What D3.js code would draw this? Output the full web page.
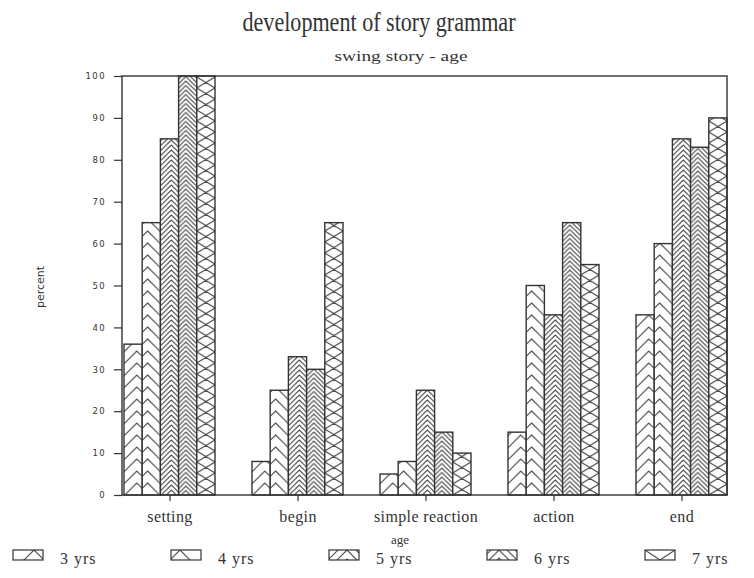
<!DOCTYPE html>
<html>
<head>
<meta charset="utf-8">
<script src="https://cdn.jsdelivr.net/npm/d3@7.9.0/dist/d3.min.js"></script>
<style>
  body { margin: 0; background: #fff; }
  svg { display: block; }
  .serif { font-family: "Liberation Serif", "DejaVu Serif", serif; fill: #333; }
  .sans { font-family: "DejaVu Sans", sans-serif; fill: #333; }
</style>
</head>
<body>
<svg id="chart" width="754" height="578"></svg>
<script>
// data
const categories = ['setting', 'begin', 'simple reaction', 'action', 'end'];
const series = ['3 yrs', '4 yrs', '5 yrs', '6 yrs', '7 yrs'];
const yrs3 = [36, 8, 5, 15, 43];
const yrs4 = [65, 25, 8, 50, 60];
const yrs5 = [85, 33, 25, 43, 85];
const yrs6 = [100, 30, 15, 65, 83];
const yrs7 = [100, 65, 10, 55, 90];
const yTicks = [0, 10, 20, 30, 40, 50, 60, 70, 80, 90, 100];

const values = [yrs3, yrs4, yrs5, yrs6, yrs7];

// hatch style per series
const hatchStyles = [
  { h: 12, peak: 0.7 },
  { h: 12, peak: 0.3 },
  { h: 5, peak: 0.6 },
  { h: 4.5, peak: 0.4 },
  { h: 11, cross: true }
];

const W = 754, H = 578;
const margin = { top: 76, right: 27, bottom: 83, left: 122 };
const ink = '#333';

const svg = d3.select('#chart');
const defs = svg.append('defs');

const x0 = d3.scalePoint()
  .domain(categories)
  .range([124, W - margin.right])
  .padding(0.3555);

const x1 = d3.scaleBand()
  .domain(series)
  .range([-45.5, 45.5]);

const y = d3.scaleLinear()
  .domain([0, 100])
  .range([H - margin.bottom, margin.top]);

function makeHatch(id, style, px0, py0, w) {
  let h = style.h;
  let p = defs.append('pattern')
    .attr('id', id)
    .attr('patternUnits', 'userSpaceOnUse')
    .attr('x', px0)
    .attr('y', py0)
    .attr('width', w)
    .attr('height', h);
  p.append('rect').attr('width', w).attr('height', h).attr('fill', '#fff');
  let d = '';
  if (style.cross) {
    for (let k = -1; k <= 1; k++) {
      let o = k * h;
      d += `M0,${o} L${w / 2},${o + h / 2} L0,${o + h} `;
      d += `M${w},${o} L${w / 2},${o + h / 2} L${w},${o + h} `;
    }
  } else {
    let pk = style.peak * w;
    let n = Math.ceil(w / h) + 2;
    for (let k = -n; k <= n; k++) {
      let o = k * h;
      d += `M0,${o + pk} L${pk},${o} L${w},${o + (w - pk)} `;
    }
  }
  p.append('path')
    .attr('d', d)
    .attr('fill', 'none')
    .attr('stroke', '#4a4a4a')
    .attr('stroke-width', 1.1);
}

// bars
const bw = x1.bandwidth();
series.forEach((s, i) => {
  let g = svg.append('g');
  categories.forEach((c, j) => {
    let bx = x0(c) + x1(s);
    let id = `hatch-${i}-${j}`;
    makeHatch(id, hatchStyles[i], bx, y(0), bw);
    g.append('rect')
      .attr('x', bx)
      .attr('y', y(values[i][j]))
      .attr('width', bw)
      .attr('height', y(0) - y(values[i][j]))
      .attr('fill', `url(#${id})`)
      .attr('stroke', ink)
      .attr('stroke-width', 1.4);
  });
});

// frame
svg.append('rect')
  .attr('x', margin.left)
  .attr('y', margin.top)
  .attr('width', W - margin.left - margin.right)
  .attr('height', H - margin.top - margin.bottom)
  .attr('fill', 'none')
  .attr('stroke', ink)
  .attr('stroke-width', 1.4);

// y axis
let yAxis = svg.append('g')
  .attr('transform', `translate(${margin.left},0)`)
  .call(d3.axisLeft(y).tickValues(yTicks).tickSize(8).tickPadding(8));
yAxis.select('.domain').remove();
yAxis.selectAll('line').attr('stroke', ink).attr('stroke-width', 1.2);
yAxis.selectAll('text')
  .attr('class', 'sans')
  .attr('font-size', 8.5)
  .attr('letter-spacing', 1.4)
  .attr('fill', ink);

// x axis
let xAxis = svg.append('g')
  .attr('transform', `translate(0,${y(0)})`)
  .call(d3.axisBottom(x0).tickSize(6).tickPadding(10));
xAxis.select('.domain').remove();
xAxis.selectAll('line').attr('stroke', ink).attr('stroke-width', 1.2);
xAxis.selectAll('text')
  .attr('class', 'serif')
  .attr('font-size', 16)
  .attr('letter-spacing', 0.4)
  .attr('fill', ink);

// titles
svg.append('text')
  .attr('class', 'serif')
  .attr('x', 379).attr('y', 31)
  .attr('text-anchor', 'middle')
  .attr('font-size', 27)
  .attr('textLength', 273)
  .attr('lengthAdjust', 'spacingAndGlyphs')
  .text('development of story grammar');

svg.append('text')
  .attr('class', 'serif')
  .attr('x', 401).attr('y', 61)
  .attr('text-anchor', 'middle')
  .attr('font-size', 15)
  .attr('textLength', 133)
  .attr('lengthAdjust', 'spacingAndGlyphs')
  .text('swing story - age');

svg.append('text')
  .attr('class', 'sans')
  .attr('transform', `translate(44,287) rotate(-90)`)
  .attr('text-anchor', 'middle')
  .attr('font-size', 11)
  .text('percent');

svg.append('text')
  .attr('class', 'serif')
  .attr('x', 400).attr('y', 544)
  .attr('text-anchor', 'middle')
  .attr('font-size', 13)
  .text('age');

// legend
const legendX = d3.scaleLinear().domain([0, series.length - 1]).range([13, 645]);
series.forEach((s, i) => {
  let lx = legendX(i);
  let id = `hatch-leg-${i}`;
  makeHatch(id, { ...hatchStyles[i], h: hatchStyles[i].h * 1.8 }, lx, 550, 30);
  svg.append('rect')
    .attr('x', lx).attr('y', 550)
    .attr('width', 30).attr('height', 10)
    .attr('fill', `url(#${id})`)
    .attr('stroke', ink)
    .attr('stroke-width', 1.2);
  svg.append('text')
    .attr('class', 'serif')
    .attr('x', lx + 47).attr('y', 564)
    .attr('font-size', 16)
    .attr('letter-spacing', 1)
    .text(s);
});
</script>
</body>
</html>
